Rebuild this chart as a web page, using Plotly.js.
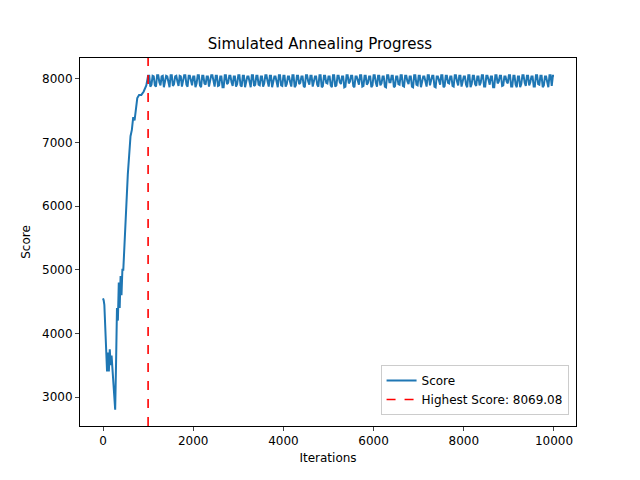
<!DOCTYPE html>
<html>
<head>
<meta charset="utf-8">
<script src="https://cdn.plot.ly/plotly-3.0.1.min.js"></script>
<style>body{margin:0}#chart{width:640px;height:480px}</style>
</head>
<body>
<div id="chart"></div>
<script>

// climb phase
let climbIter=[0,15,30,50,70,90,110,130,150,170,190,210,230,250,270,290,310,330,350,370,390,410,430,450,480,520,550,580,610,640,670,700,730,760,800,850,900,960,1000]
let climbScore=[4550,4520,4450,4100,3600,3400,3700,3400,3750,3500,3650,3400,3200,3000,2800,3550,4400,4200,4800,4400,4900,4600,5000,5000,5500,6000,6500,6800,7100,7200,7400,7350,7500,7700,7750,7750,7800,7900,8050]

// plateau phase, samples at 1025, 1050, 1075 ... 10000
let plateauA=[
7880,8050,7900,8060,7950,8040,7870,8050,7920,8060,7890,8040,7960,8050,7880,8060,7910,8050,7940,8040,
7870,8060,7900,8050,7930,8040,7880,8060,7960,8050,7890,8040,7870,8060,7920,8050,7950,8040,7880,8060,
7900,8050,7870,8040,7940,8060,7890,8050,7910,8040,7880,8060,7960,8050,7870,8040,7930,8060,7900,8050,
7880,8040,7950,8060,7870,8050,7920,8040,7890,8060,7960,8050,7880,8040,7910,8060,7870,8050,7940,8040,
7900,8060,7880,8050,7950,8040,7870,8060,7930,8050,7890,8040,7960,8060,7880,8050,7910,8040,7870,8060,
7940,8050,7900,8040,7880,8060,7950,8050,7870,8040,7920,8060,7890,8050,7960,8040,7880,8060,7910,8050,
7870,8040,7930,8060,7900,8050,7880,8040,7950,8060,7870,8050,7940,8040,7890,8060,7960,8050,7880,8040,
7910,8060,7870,8050,7920,8040,7900,8060,7880,8050,7950,8040,7870,8060,7930,8050,7890,8040,7960,8060,
7880,8050,7910,8040,7870,8060,7940,8050,7900,8040,7880,8060,7920,8050,7870,8040,7950,8060,7890,8050
]
let plateauB=[
8050,7910,8040,7880,8060,7900,8050,7940,8040,7870,8060,7920,8050,7890,8040,7950,8060,7880,8050,7900,
8040,7930,8060,7870,8050,7910,8040,7960,8060,7880,8050,7900,8040,7870,8060,7940,8050,7890,8040,7920,
8060,7880,8050,7950,8040,7870,8060,7910,8050,7900,8040,7930,8060,7880,8050,7960,8040,7870,8060,7890,
8050,7920,8040,7880,8060,7900,8050,7940,8040,7870,8060,7910,8050,7950,8040,7880,8060,7890,8050,7930,
8040,7870,8060,7900,8050,7920,8040,7880,8060,7960,8050,7870,8040,7910,8060,7890,8050,7940,8040,7900,
8060,7880,8050,7930,8040,7870,8060,7950,8050,7890,8040,7910,8060,7880,8050,7920,8040,7870,8060,7900,
8050,7940,8040,7880,8060,7960,8050,7870,8040,7910,8060,7890,8050,7930,8040,7880,8060,7900,8050,7950,
8040,7870,8060,7920,8050,7890,8040,7940,8060,7880,8050,7910,8040,7870,8060,7960,8050,7900,8040,7930,
8060,7880,8050,7870,8040,7920,8060,7890,8050,7950,8040,7880,8060,7910,8050,7900,8040,7870,8060,8050
]

let bestIter=1000
let bestScore=8069.08

let xs=climbIter.slice()
let ys=climbScore.slice()
plateauA.forEach((v,i)=>{
xs.push(1025+i*50)
ys.push(plateauB[i])
xs.push(1050+i*50)
ys.push(v)
})

let font={family:"DejaVu Sans, sans-serif",size:12,color:"#000"}

Plotly.newPlot("chart",[
{x:xs,y:ys,type:"scatter",mode:"lines",name:"Score",line:{color:"#1f77b4",width:2}},
{x:[bestIter,bestIter],y:[2544,8330],type:"scatter",mode:"lines",name:"Highest Score: "+bestScore.toFixed(2),line:{color:"red",width:1.6,dash:"dash"}}
],{
width:640,height:480,
font:font,
paper_bgcolor:"#fff",plot_bgcolor:"#fff",
margin:{l:80,r:64,t:58,b:54},
title:{text:"Simulated Annealing Progress",x:0.5,xanchor:"center",y:0.92,font:{family:font.family,size:15,color:"#000"}},
xaxis:{range:[-510,10488],tickvals:[0,2000,4000,6000,8000,10000],ticktext:["0","2000","4000","6000","8000","10000"],ticks:"outside",ticklen:4,showgrid:false,zeroline:false,showline:true,mirror:true,linecolor:"#000",
title:{text:"Iterations",font:font,standoff:6}},
yaxis:{range:[2544,8330],tickvals:[3000,4000,5000,6000,7000,8000],ticks:"outside",ticklen:4,showgrid:false,zeroline:false,showline:true,mirror:true,linecolor:"#000",
title:{text:"Score",font:font,standoff:8}},
legend:{x:0.985,y:0.03,xanchor:"right",yanchor:"bottom",bordercolor:"#ccc",borderwidth:1,bgcolor:"rgba(255,255,255,0.8)",font:font},
showlegend:true
},{displayModeBar:false})

</script>
</body>
</html>
